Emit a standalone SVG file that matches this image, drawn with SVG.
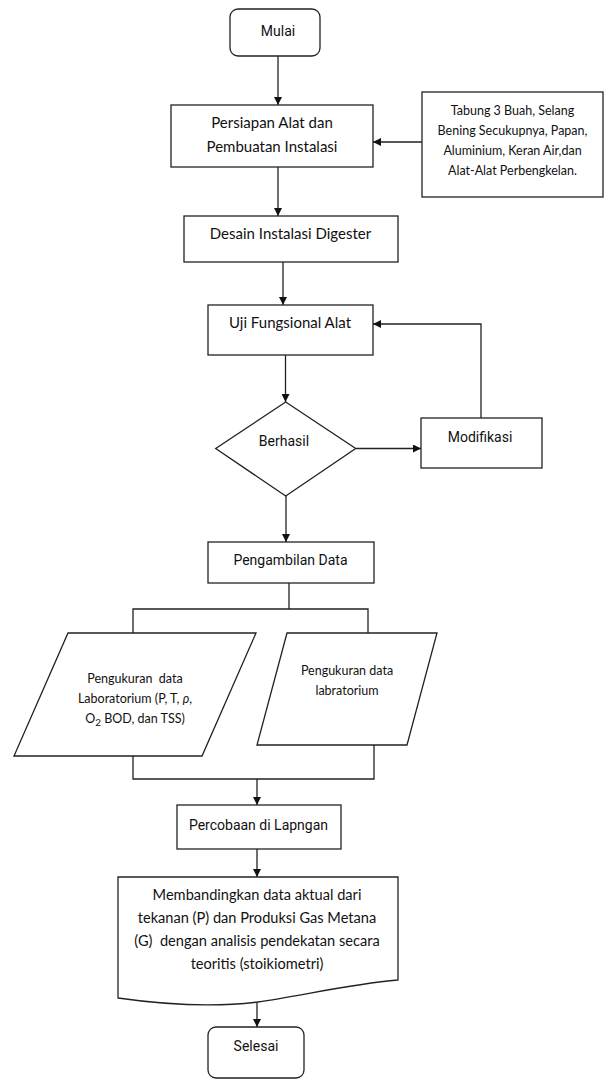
<svg xmlns="http://www.w3.org/2000/svg" width="605" height="1079" viewBox="0 0 605 1079">
<style>
.b{fill:#fff;stroke:#222;stroke-width:1.3}
.c{fill:none;stroke:#222;stroke-width:1.3}
.t{font-family:Lato,"Liberation Sans",sans-serif;font-size:14px;fill:#111;text-anchor:middle;white-space:pre}
.s{font-size:12.5px}
.r{font-family:Roboto,"Liberation Sans",sans-serif;font-size:14px;fill:#111;text-anchor:middle}
.d{font-size:15px}
.e{font-size:14.6px}
</style>
<defs>
<marker id="ah" viewBox="0 0 10 10" refX="10" refY="5" markerWidth="8" markerHeight="8" markerUnits="userSpaceOnUse" orient="auto"><path d="M0,0 L10,5 L0,10 Z" fill="#111"/></marker>
</defs>
<rect width="605" height="1079" fill="#fff"/>
<g id="connectors">
<line class="c" x1="278" y1="56" x2="278" y2="105" marker-end="url(#ah)"/>
<line class="c" x1="422" y1="142" x2="373" y2="142" marker-end="url(#ah)"/>
<line class="c" x1="278" y1="167" x2="278" y2="216" marker-end="url(#ah)"/>
<line class="c" x1="283" y1="262" x2="283" y2="305" marker-end="url(#ah)"/>
<line class="c" x1="285.5" y1="355" x2="285.5" y2="402" marker-end="url(#ah)"/>
<line class="c" x1="356" y1="448.5" x2="421" y2="448.5" marker-end="url(#ah)"/>
<polyline class="c" points="481,418 481,324 373,324" marker-end="url(#ah)"/>
<line class="c" x1="286" y1="496" x2="286" y2="542" marker-end="url(#ah)"/>
<polyline class="c" points="133,633 133,609 368,609 368,633"/>
<line class="c" x1="289" y1="583" x2="289" y2="609"/>
<polyline class="c" points="133,756 133,779 374,779 374,745"/>
<line class="c" x1="257" y1="779" x2="257" y2="805" marker-end="url(#ah)"/>
<line class="c" x1="257" y1="849" x2="257" y2="877" marker-end="url(#ah)"/>
<line class="c" x1="257" y1="1003" x2="257" y2="1027" marker-end="url(#ah)"/>
</g>
<g id="mulai">
<rect class="b" x="230" y="9" width="90" height="47" rx="8"/>
<text class="r" x="278" y="35.5">Mulai</text>
</g>
<g id="persiapan">
<rect class="b" x="171" y="105" width="202" height="62"/>
<text class="t d" x="272" y="128">Persiapan Alat dan</text>
<text class="t d" x="272" y="152">Pembuatan Instalasi</text>
</g>
<g id="bahan">
<rect class="b" x="422" y="92" width="181" height="105"/>
<text class="t s" x="512.5" y="115">Tabung 3 Buah, Selang</text>
<text class="t s" x="512.5" y="134.5">Bening Secukupnya, Papan,</text>
<text class="t s" x="512.5" y="154.5">Aluminium, Keran Air,dan</text>
<text class="t s" x="512.5" y="174.5">Alat-Alat Perbengkelan.</text>
</g>
<g id="desain">
<rect class="b" x="184" y="216" width="214" height="46"/>
<text class="t d" x="290.5" y="239">Desain Instalasi Digester</text>
</g>
<g id="uji">
<rect class="b" x="208" y="305" width="165" height="50"/>
<text class="t d" x="290" y="328">Uji Fungsional Alat</text>
</g>
<g id="berhasil">
<polygon class="b" points="285.7,402 355.7,448.5 285.7,496 215.7,448.5"/>
<text class="r" x="284" y="446">Berhasil</text>
</g>
<g id="modifikasi">
<rect class="b" x="421" y="418" width="121" height="50"/>
<text class="r" x="480" y="442">Modifikasi</text>
</g>
<g id="pengambilan">
<rect class="b" x="208" y="542" width="166" height="41"/>
<text class="r" x="290.5" y="565">Pengambilan Data</text>
</g>
<g id="lab1">
<polygon class="b" points="68,633 256,633 202,756 14,756"/>
<text class="t s" x="135" y="682.5">Pengukuran  data</text>
<text class="t s" x="135" y="702.5">Laboratorium (P, T, <tspan font-style="italic">ρ</tspan>,</text>
<text class="t s" x="135" y="722.5">O<tspan font-size="10" dy="3">2</tspan><tspan dy="-3"> BOD, dan TSS)</tspan></text>
</g>
<g id="lab2">
<polygon class="b" points="287,633 437,633 407,745 257,745"/>
<text class="t s" x="347" y="674.5">Pengukuran data</text>
<text class="t s" x="347" y="695">labratorium</text>
</g>
<g id="percobaan">
<rect class="b" x="177" y="805" width="164" height="44"/>
<text class="r" x="258.5" y="830">Percobaan di Lapngan</text>
</g>
<g id="membandingkan">
<path class="b" d="M118,877 H398 V980 C350,984 300,996 258,1002 C210,1008 160,1004 118,998 Z"/>
<text class="t e" x="257" y="900">Membandingkan data aktual dari</text>
<text class="t e" x="257" y="923">tekanan (P) dan Produksi Gas Metana</text>
<text class="t e" x="257" y="946">(G)  dengan analisis pendekatan secara</text>
<text class="t e" x="257" y="969">teoritis (stoikiometri)</text>
</g>
<g id="selesai">
<rect class="b" x="208" y="1027" width="96" height="51" rx="8"/>
<text class="r" x="256" y="1051">Selesai</text>
</g>
</svg>
